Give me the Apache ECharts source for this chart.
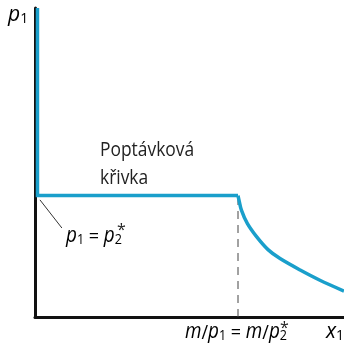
<!DOCTYPE html>
<html>
<head>
<meta charset="utf-8">
<script src="https://cdn.jsdelivr.net/npm/echarts@6/dist/echarts.min.js"></script>
<style>
html, body { margin: 0; padding: 0; background: #fff; }
#main { width: 344px; height: 346px; }
</style>
</head>
<body>
<div id="main"></div>
<script>
// kinked part of the demand curve: vertical along the axis, then flat at p1 = p2*
var flatX = [0.8, 0.8, 65.7];
var flatY = [100, 39.3, 39.3];
// hyperbola part x1 = m/p1
var curveX = [65.7, 66.0, 66.8, 68.7, 71.7, 75.4, 79.3, 85.8, 92.2, 100];
var curveY = [39.3, 37.9, 34.6, 30.3, 26.0, 21.8, 18.9, 15.2, 11.9, 8.4];
// dashed drop line at m/p1 = m/p2*
var dropX = [65.7, 65.7];
var dropY = [0, 39.3];
// leader line for the p1 = p2* label
var leaderX = [1.6, 8.7];
var leaderY = [37.9, 28.8];

function pairs(xs, ys) {
    var out = [];
    for (var i = 0; i < xs.length; i++) out.push([xs[i], ys[i]]);
    return out;
}

var blue = '#1a9fcb';
var font = 'Open Sans';
var ink = '#222';
var rich = {
    i: { fontStyle: 'italic', fontSize: 21, fontFamily: font, color: ink, verticalAlign: 'bottom' },
    n: { fontSize: 20, fontFamily: font, color: ink, verticalAlign: 'bottom' },
    s: { fontSize: 14, fontFamily: font, color: ink, verticalAlign: 'bottom' }
};

function label(x, y, text, sx) {
    return {
        type: 'text', x: x, y: y, scaleX: sx || 0.9,
        style: { text: text, rich: rich, align: 'left', verticalAlign: 'top' }
    };
}
function star(x, y) {
    return {
        type: 'text', x: x, y: y,
        style: { text: '*', font: '16px ' + font, fill: ink, align: 'left', verticalAlign: 'top' }
    };
}

var myChart = echarts.init(document.getElementById('main'));

myChart.setOption({
    animation: false,
    grid: { left: 35, right: 0, top: 8, bottom: 29 },
    xAxis: {
        type: 'value', min: 0, max: 100,
        axisLine: { lineStyle: { color: '#111', width: 3 } },
        axisTick: { show: false }, axisLabel: { show: false }, splitLine: { show: false }
    },
    yAxis: {
        type: 'value', min: 0, max: 100,
        axisLine: { show: true, lineStyle: { color: '#111', width: 3 } },
        axisTick: { show: false }, axisLabel: { show: false }, splitLine: { show: false }
    },
    series: [
        {
            type: 'line', data: pairs(dropX, dropY), symbol: 'none',
            lineStyle: { color: '#444', width: 1, type: [8, 6] }
        },
        {
            type: 'line', data: pairs(leaderX, leaderY), symbol: 'none',
            lineStyle: { color: '#333', width: 1 }
        },
        {
            type: 'line', data: pairs(flatX, flatY), symbol: 'none',
            lineStyle: { color: blue, width: 3.5, join: 'miter' }
        },
        {
            type: 'line', data: pairs(curveX, curveY), symbol: 'none',
            smooth: 0.3,
            lineStyle: { color: blue, width: 3.5, join: 'round' }
        }
    ],
    graphic: [
        label(8, 5, '{i|p}{s|1}', 1),
        label(326, 322, '{i|x}{s|1}', 1),
        {
            type: 'text', x: 100, y: 136, scaleX: 0.87,
            style: { text: 'Poptávková\nkřivka', font: '20px ' + font, fill: ink, lineHeight: 28,
                align: 'left', verticalAlign: 'top' }
        },
        label(66, 226, '{i|p}{s|1}{n| = }{i|p}{s|2}'),
        star(117, 222),
        label(185, 322, '{i|m}{n|/}{i|p}{s|1}{n| = }{i|m}{n|/}{i|p}{s|2}'),
        star(280, 320)
    ]
});

window.addEventListener('resize', function () { myChart.resize(); });
</script>
</body>
</html>
